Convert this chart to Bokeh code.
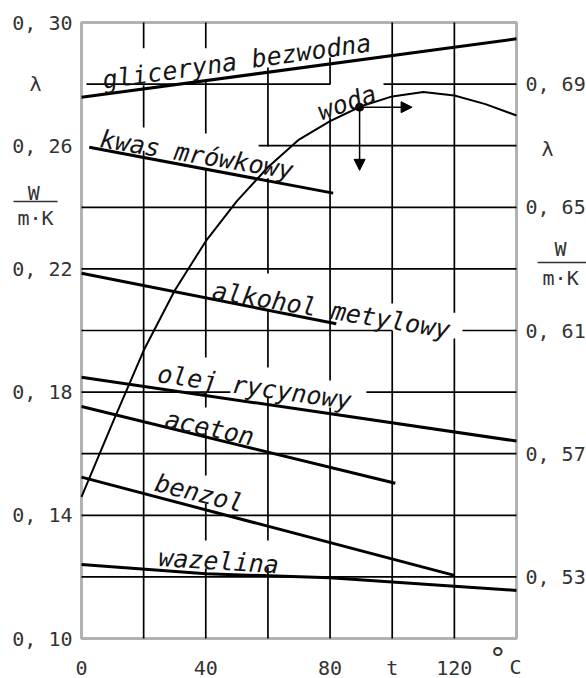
from bokeh.plotting import figure
from bokeh.models import (Range1d, LinearAxis, FixedTicker, Arrow, NormalHead,
                          BoxAnnotation)
from bokeh.core.properties import value
from bokeh.embed import file_html
from bokeh.resources import INLINE

# ---- axes -------------------------------------------------------------
t_ticks = [0, 40, 80, 100, 120]
t_tick_labels = ["0", "40", "80", "t", "120"]

lam_ticks = [0.10, 0.14, 0.18, 0.22, 0.26, 0.30]
lam_tick_labels = ["0, 10", "0, 14", "0, 18", "0, 22", "0, 26", "0, 30"]

woda_ticks = [0.53, 0.57, 0.61, 0.65, 0.69]
woda_tick_labels = ["0, 53", "0, 57", "0, 61", "0, 65", "0, 69"]

# ---- thermal conductivity of liquids, W/(m*K), vs temperature t, degC ----
gliceryna_t = [0, 140]
gliceryna_lam = [0.2757, 0.2947]

kwas_t = [2.5, 81]
kwas_lam = [0.2595, 0.2446]

alkohol_t = [0, 82]
alkohol_lam = [0.2186, 0.2022]

olej_t = [0, 140]
olej_lam = [0.1848, 0.1641]

aceton_t = [0, 101]
aceton_lam = [0.1753, 0.1504]

benzol_t = [0, 120]
benzol_lam = [0.1524, 0.1205]

wazelina_t = [0, 40, 80, 120, 140]
wazelina_lam = [0.1240, 0.1210, 0.1197, 0.1170, 0.1156]

# water uses the right-hand scale
woda_t = [0, 10, 20, 30, 40, 50, 60, 70, 80, 90, 100, 110, 120, 130, 140]
woda_lam = [0.556, 0.580, 0.6035, 0.623, 0.639, 0.652, 0.663, 0.672,
            0.678, 0.6828, 0.686, 0.6874, 0.6863, 0.6835, 0.6798]

woda_point_t = 89.5
woda_point_lam = 0.6825

# ---- page geometry ------------------------------------------------------
W, H = 586, 678
T0, T1 = 0, 140            # diagram box, temperature
L0, L1 = 0.10, 0.30        # diagram box, left scale
WODA_SHIFT = 0.41          # right scale = left scale + shift
pad_l, pad_r, pad_t, pad_b = 81, 70, 22, 40   # pixels around the box

sx = (W - pad_l - pad_r) / (T1 - T0)
sy = (H - pad_t - pad_b) / (L1 - L0)
x_range = Range1d(T0 - pad_l / sx, T1 + pad_r / sx)
y_range = Range1d(L0 - pad_b / sy, L1 + pad_t / sy)
woda_range = Range1d(y_range.start + WODA_SHIFT, y_range.end + WODA_SHIFT)

MONO = "DejaVu Sans Mono"
INK = "#151515"
GREY = "#333333"

p = figure(width=W, height=H, x_range=x_range, y_range=y_range,
           output_backend="svg", toolbar_location=None,
           min_border=0, min_border_left=0, min_border_right=0,
           min_border_top=0, min_border_bottom=0)
p.extra_y_ranges = {"woda": woda_range}
p.add_layout(LinearAxis(y_range_name="woda"), "right")

p.xgrid.visible = False
p.ygrid.visible = False
p.background_fill_color = "white"
p.border_fill_color = "white"
p.outline_line_color = None

p.xaxis.ticker = FixedTicker(ticks=t_ticks)
p.xaxis.major_label_overrides = dict(zip(t_ticks, t_tick_labels))
p.xaxis.fixed_location = L0
p.xaxis.major_label_standoff = 17

left_axis, right_axis = p.yaxis[0], p.yaxis[1]
left_axis.ticker = FixedTicker(ticks=lam_ticks)
left_axis.major_label_overrides = dict(zip(lam_ticks, lam_tick_labels))
left_axis.fixed_location = T0
right_axis.ticker = FixedTicker(ticks=woda_ticks)
right_axis.major_label_overrides = dict(zip(woda_ticks, woda_tick_labels))
right_axis.fixed_location = T1
left_axis.major_label_standoff = 9
right_axis.major_label_standoff = 9

for ax in list(p.xaxis) + list(p.yaxis):
    ax.axis_line_color = None
    ax.major_tick_line_color = None
    ax.minor_tick_line_color = None
    ax.major_tick_in = 0
    ax.major_tick_out = 0
    ax.major_label_text_font = MONO
    ax.major_label_text_font_size = "20px"
    ax.major_label_text_color = GREY

# ---- hand-drawn grid, broken where the lettering sits ------------------
v_grid = {
    20: [(0.30, 0.2916), (0.2796, 0.2659), (0.2584, 0.10)],
    40: [(0.30, 0.2916), (0.2812, 0.2640), (0.2520, 0.1912), (0.1799, 0.1750),
         (0.1682, 0.1529), (0.1438, 0.1318), (0.1227, 0.10)],
    60: [(0.2854, 0.2597), (0.2494, 0.2185), (0.2065, 0.1880),
         (0.1783, 0.1318), (0.1231, 0.10)],
    80: [(0.2886, 0.2799), (0.2692, 0.1838), (0.1750, 0.10)],
    100: [(0.30, 0.2088), (0.20, 0.10)],
    120: [(0.30, 0.2058), (0.1974, 0.10)],
}
h_grid = {
    0.28: [(1.6, 80), (97.2, 140)],
    0.26: [(57, 140)],
    0.24: [(0, 140)],
    0.22: [(0, 140)],
    0.20: [(0, 100), (122.6, 140)],
    0.18: [(0, 47.9), (91.7, 140)],
    0.16: [(0, 140)],
    0.14: [(0, 140)],
    0.12: [(0, 140)],
}
gx0, gy0, gx1, gy1 = [], [], [], []
for t, parts in v_grid.items():
    for a, b in parts:
        gx0.append(t); gy0.append(a); gx1.append(t); gy1.append(b)
for lam, parts in h_grid.items():
    for a, b in parts:
        gx0.append(a); gy0.append(lam); gx1.append(b); gy1.append(lam)
p.segment(gx0, gy0, gx1, gy1, line_color="black", line_width=1.7)

# diagram box
p.add_layout(BoxAnnotation(left=T0, right=T1, bottom=L0, top=L1,
                           fill_alpha=0, line_color="black", line_width=3))

# ---- curves -----------------------------------------------------------
for xs, ys in [(gliceryna_t, gliceryna_lam), (kwas_t, kwas_lam),
               (alkohol_t, alkohol_lam), (olej_t, olej_lam),
               (aceton_t, aceton_lam), (benzol_t, benzol_lam),
               (wazelina_t, wazelina_lam)]:
    p.line(xs, ys, line_color="black", line_width=3)

p.line(woda_t, woda_lam, line_color="black", line_width=2, y_range_name="woda")

# reading example on the water curve
p.scatter([woda_point_t], [woda_point_lam], size=8, color="black",
          y_range_name="woda")
p.add_layout(Arrow(end=NormalHead(size=11, fill_color="black", line_color="black"),
                   x_start=woda_point_t, y_start=woda_point_lam,
                   x_end=106.4, y_end=woda_point_lam,
                   y_range_name="woda", line_width=1.5))
p.add_layout(Arrow(end=NormalHead(size=11, fill_color="black", line_color="black"),
                   x_start=woda_point_t, y_start=woda_point_lam,
                   x_end=woda_point_t, y_end=0.662,
                   y_range_name="woda", line_width=1.5))

# ---- curve names ------------------------------------------------------
names = ["gliceryna bezwodna", "kwas mrówkowy", "alkohol metylowy",
         "olej rycynowy", "aceton", "benzol", "wazelina"]
name_x = [6.8, 6.1, 42.2, 24.5, 27.0, 23.8, 24.8]
name_y = [0.2812, 0.2623, 0.2130, 0.1860, 0.1714, 0.1507, 0.1263]
name_angle = [8, -9.5, -9.5, -8, -12, -14, -3.5]
p.text(x=name_x, y=name_y, text=names, angle=name_angle, angle_units="deg",
       text_font=value(MONO), text_font_style="italic", text_font_size="25px",
       text_color=INK, text_align="left", text_baseline="alphabetic")
p.text(x=[76.3], y=[0.6808], text=["woda"], angle=[19], angle_units="deg",
       text_font=value(MONO), text_font_style="italic", text_font_size="25px",
       text_color=INK, text_align="left", text_baseline="alphabetic",
       y_range_name="woda")

# ---- unit captions beside the scales ------------------------------------
cap_text = ["λ", "W", "m·K", "λ", "W", "m·K", "C"]
cap_x = [-14.8, -15.4, -14.8, 150.0, 154.2, 154.2, 139.7]
cap_y = [0.280, 0.2445, 0.2364, 0.2590, 0.2266, 0.2172, 0.0906]
p.text(x=cap_x, y=cap_y, text=cap_text, text_font=value(MONO),
       text_font_size="20px", text_color=GREY, text_align="center",
       text_baseline="middle")
p.text(x=[134.0], y=[0.0935], text=["°"], text_font=value(MONO),
       text_font_size="30px", text_color=GREY, text_align="center",
       text_baseline="middle")

# fraction bars of the unit W/(m*K)
p.segment(x0=[-21.9, 146.8], y0=[0.2419, 0.2221],
          x1=[-7.7, 165.0], y1=[0.2419, 0.2221],
          line_color=GREY, line_width=1.5)

open("out.html", "w").write(file_html(p, INLINE))
